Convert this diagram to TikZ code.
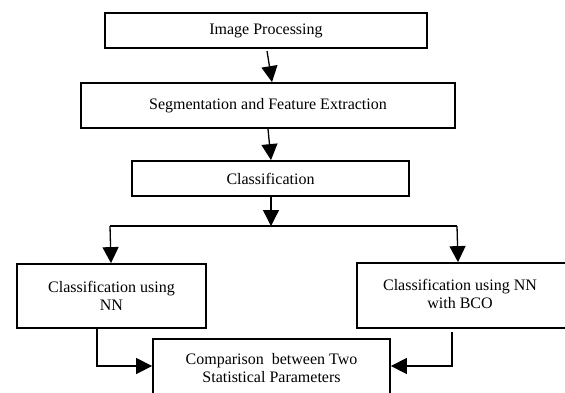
\documentclass[tikz,border=0pt]{standalone}
\usepackage{fontspec}
\setmainfont{Liberation Serif}
\usetikzlibrary{arrows.meta,calc}
\begin{document}
\begin{tikzpicture}[x=1pt,y=1pt,
  box/.style={draw=black, line width=1.8pt, fill=white, inner sep=0pt, align=center,
    font=\fontsize{16}{18}\selectfont},
  conn/.style={draw=black, line width=1.3pt},
  arr/.style={conn, -{Triangle[width=16pt,length=16pt]}}]
\useasboundingbox (0,0) rectangle (565,-392);
\clip (0,0) rectangle (565,-392);
% boxes
\node[box, minimum width=322, minimum height=35] (b1) at (266,-30.5) {\raisebox{-4pt}{Image Processing}};
\node[box, minimum width=374, minimum height=45] (b2) at (268,-105.5) {Segmentation and Feature Extraction};
\node[box, minimum width=277, minimum height=35] (b3) at (270.5,-178.5) {Classification};
\node[box, minimum width=189, minimum height=64] (bl) at (111.5,-296) {Classification using\\NN};
\node[box, minimum width=218, minimum height=65] (br) at (466,-295.5) {\begin{tabular}{@{}c@{\hspace{12pt}}}Classification using NN\\with BCO\end{tabular}};
\node[box, minimum width=237, minimum height=59] (bc) at (271.5,-368.5) {Comparison\ \ between Two\\Statistical Parameters};
% connectors
\coordinate (a1s) at (267,-51);
\draw[arr] (a1s) -- ($(b2.north)+(4,0)$);
\draw[arr] (b2.south) -- ($(b3.north)+(0.5,0)$);
\coordinate (split) at (271,-226);
\coordinate (sl) at (110,-226);
\coordinate (sr) at (457,-226);
\draw[arr] ($(b3.south)+(0.5,0)$) -- (split);
\draw[conn] (sl) -- (sr);
\draw[arr] (sl) -- ($(bl.north)+(-0.5,0)$);
\draw[arr] (sr) -- (br.north -| 458,0);
\coordinate (ls) at (97,-328);
\coordinate (rs) at (452,-332);
\draw[arr] (ls) |- (bc.west |- 0,-366);
\draw[arr] (rs) |- (bc.east |- 0,-366);
\end{tikzpicture}
\end{document}
